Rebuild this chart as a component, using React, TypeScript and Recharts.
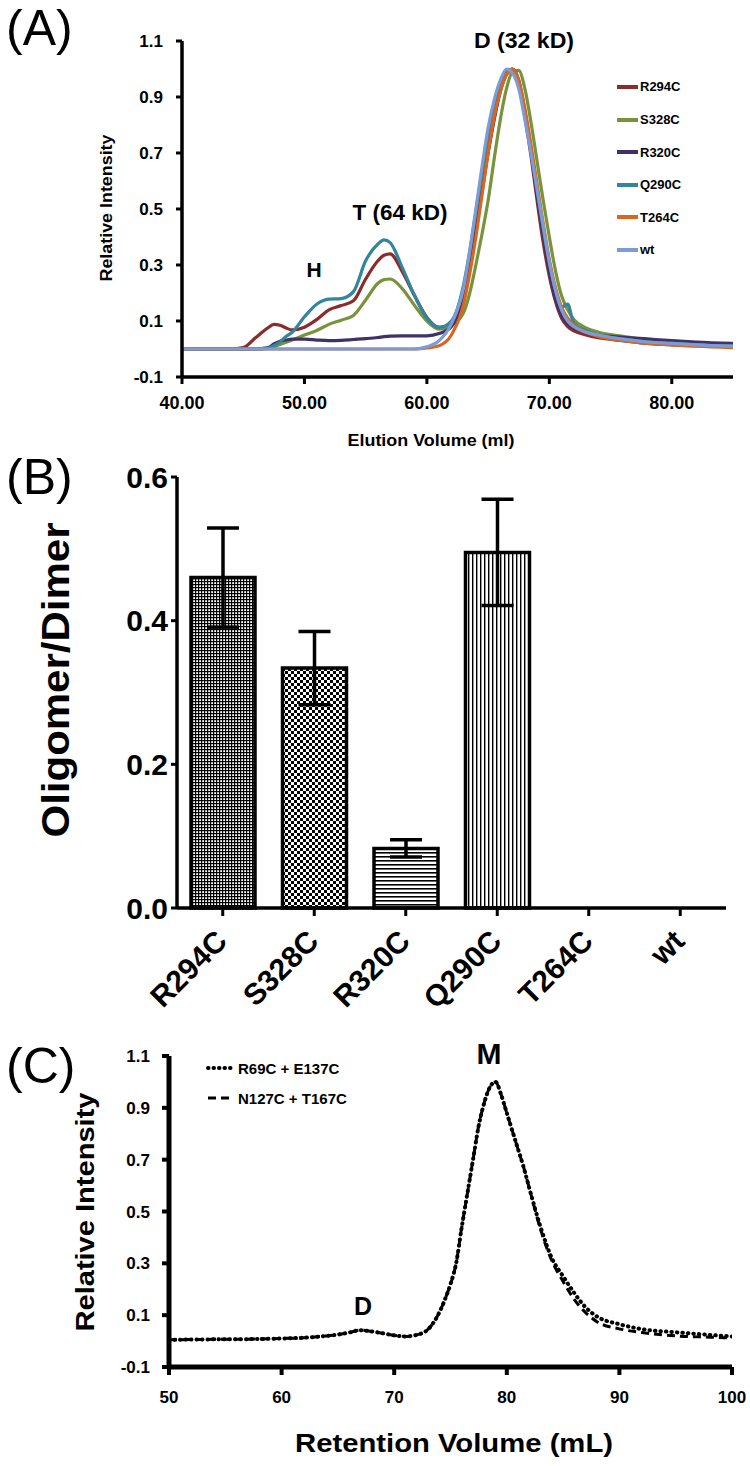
import React from "react";
import {
  LineChart,
  Line,
  BarChart,
  Bar,
  Cell,
  ErrorBar,
  XAxis,
  YAxis,
  Legend,
} from "recharts";

const FONT = '"Liberation Sans", Arial, Helvetica, sans-serif';

// ---- panel A: elution profiles ----
const elutionMl = [
  40, 44, 45, 46, 47, 47.5, 48, 48.5, 49, 50, 51, 52, 53, 54, 55, 56, 56.5, 57, 58, 59, 60,
  61, 62, 63, 63.5, 64, 64.5, 65, 65.5, 66, 66.5, 67, 67.5, 68, 68.5, 69, 69.5, 70, 70.5, 71,
  71.5, 72, 73, 74, 76, 78, 80, 82, 85,
];
const r294c = [
  0, 0, 0.005, 0.04, 0.075, 0.088, 0.085, 0.075, 0.068, 0.078, 0.105, 0.14, 0.155, 0.172, 0.25,
  0.315, 0.335, 0.34, 0.275, 0.19, 0.113,
  0.077, 0.09, 0.19, 0.3, 0.43, 0.57, 0.71, 0.83, 0.93, 0.985, 1.0, 0.95, 0.83, 0.69, 0.53, 0.38,
  0.26, 0.17, 0.11, 0.08, 0.065, 0.05, 0.04, 0.03, 0.02, 0.015, 0.012, 0.01,
];
const s328c = [
  0, 0, 0, 0, 0.002, 0.008, 0.016, 0.024, 0.032, 0.05, 0.066, 0.088, 0.103, 0.12, 0.175, 0.235,
  0.248, 0.25, 0.215, 0.155, 0.1,
  0.071, 0.085, 0.13, 0.2, 0.3, 0.41, 0.53, 0.68, 0.82, 0.93, 0.99, 0.995, 0.93, 0.81, 0.67, 0.53,
  0.4, 0.28, 0.19, 0.14, 0.105, 0.075, 0.06, 0.045, 0.032, 0.022, 0.015, 0.01,
];
const r320c = [
  0, 0, 0, 0, 0.004, 0.018, 0.028, 0.032, 0.035, 0.035, 0.032, 0.03, 0.031, 0.034, 0.037, 0.041,
  0.044, 0.046, 0.047, 0.047, 0.047,
  0.055, 0.08, 0.18, 0.29, 0.42, 0.56, 0.7, 0.82, 0.92, 0.98, 1.0, 0.96, 0.85, 0.71, 0.55, 0.41,
  0.28, 0.18, 0.12, 0.09, 0.075, 0.06, 0.05, 0.042, 0.036, 0.03, 0.025, 0.02,
];
const q290c = [
  0, 0, 0, 0, 0.003, 0.012, 0.025, 0.045, 0.06, 0.115, 0.16, 0.178, 0.18, 0.205, 0.315, 0.375,
  0.39, 0.38, 0.29, 0.19, 0.11,
  0.077, 0.1, 0.23, 0.35, 0.49, 0.63, 0.77, 0.88, 0.95, 0.99, 0.99, 0.94, 0.84, 0.71, 0.57, 0.43,
  0.31, 0.21, 0.15, 0.16, 0.09, 0.065, 0.05, 0.035, 0.025, 0.02, 0.015, 0.01,
];
const t264c = [
  0, 0, 0, 0, 0, 0, 0, 0, 0, 0, 0, 0, 0, 0, 0, 0, 0, 0, 0, 0, 0.004,
  0.012, 0.05, 0.16, 0.27, 0.4, 0.55, 0.7, 0.83, 0.92, 0.98, 1.0, 0.96, 0.86, 0.73, 0.59, 0.45,
  0.32, 0.22, 0.15, 0.11, 0.085, 0.06, 0.045, 0.03, 0.02, 0.015, 0.01, 0.005,
];
const wt = [
  0, 0, 0, 0, 0, 0, 0, 0, 0, 0, 0, 0, 0, 0, 0, 0, 0, 0, 0, 0, 0.008,
  0.03, 0.09, 0.22, 0.35, 0.5, 0.65, 0.79, 0.89, 0.96, 1.0, 0.985, 0.93, 0.82, 0.7, 0.57, 0.44,
  0.31, 0.21, 0.14, 0.1, 0.08, 0.06, 0.05, 0.035, 0.025, 0.02, 0.015, 0.01,
];
const ticksAX = [40, 50, 60, 70, 80];
const ticksAY = [-0.1, 0.1, 0.3, 0.5, 0.7, 0.9, 1.1];

const SERIES_A = [
  { key: "R294C", color: "#8a2c2b" },
  { key: "S328C", color: "#77933c" },
  { key: "R320C", color: "#3f3267" },
  { key: "Q290C", color: "#31859c" },
  { key: "T264C", color: "#d9661c" },
  { key: "wt", color: "#7d9cd5" },
];

const dataA = elutionMl.map((x, i) => ({
  x,
  R294C: r294c[i],
  S328C: s328c[i],
  R320C: r320c[i],
  Q290C: q290c[i],
  T264C: t264c[i],
  wt: wt[i],
}));

// ---- panel B: oligomer / dimer ratio ----
const mutants = ["R294C", "S328C", "R320C", "Q290C", "T264C", "wt"];
const ratio = [0.46, 0.334, 0.083, 0.495, 0, 0];
const ratioErr = [0.069, 0.051, 0.012, 0.074, 0, 0];
const ticksBY = [0, 0.2, 0.4, 0.6];
const FILLS = ["url(#pDots)", "url(#pCheck)", "url(#pHoriz)", "url(#pVert)", "#fff", "#fff"];

const dataB = mutants.map((name, i) => ({ name, value: ratio[i], err: ratioErr[i] }));

// ---- panel C: retention profiles ----
const retentionMl = [
  50, 52, 55, 58, 60, 62, 64, 65, 66, 67, 68, 69, 70, 71, 72, 73, 74, 74.5, 75, 75.5, 76, 76.5,
  77, 77.5, 78, 78.5, 79, 79.5, 80, 80.5, 81, 81.5, 82, 83, 84, 85, 86, 87, 88, 90, 92, 95, 98, 100,
];
const r69cE137c = [
  0.005, 0.006, 0.007, 0.008, 0.01, 0.013, 0.02, 0.025, 0.033, 0.042, 0.037, 0.03, 0.022, 0.018,
  0.024, 0.045, 0.11, 0.16, 0.22, 0.3, 0.44, 0.57, 0.7, 0.83, 0.92, 0.98, 1.0, 0.95, 0.88, 0.81,
  0.74, 0.67, 0.59, 0.44, 0.32, 0.25, 0.185, 0.13, 0.095, 0.065, 0.046, 0.034, 0.024, 0.018,
];
const n127cT167c = [
  0.005, 0.006, 0.007, 0.008, 0.01, 0.013, 0.02, 0.025, 0.033, 0.042, 0.037, 0.03, 0.022, 0.018,
  0.024, 0.045, 0.11, 0.16, 0.22, 0.3, 0.44, 0.57, 0.7, 0.83, 0.92, 0.98, 1.0, 0.95, 0.88, 0.81,
  0.74, 0.67, 0.59, 0.43, 0.31, 0.23, 0.16, 0.11, 0.075, 0.047, 0.033, 0.02, 0.015, 0.012,
];
const ticksCX = [50, 60, 70, 80, 90, 100];
const ticksCY = [-0.1, 0.1, 0.3, 0.5, 0.7, 0.9, 1.1];

const C_STYLE: Record<string, { dash: string; w: number; cap: "round" | "butt" }> = {
  "R69C + E137C": { dash: "0.5 5", w: 4, cap: "round" },
  "N127C + T167C": { dash: "8 5", w: 3, cap: "butt" },
};

const dataC = retentionMl.map((x, i) => ({ x, a: r69cE137c[i], b: n127cT167c[i] }));

const tickStyle = (size: number) => ({
  fill: "#000",
  fontSize: size,
  fontWeight: 700,
  fontFamily: FONT,
});

const LegendA = (props: any) => {
  const items = [...(props.payload || [])].sort(
    (a: any, b: any) =>
      SERIES_A.findIndex((s) => s.key === a.value) - SERIES_A.findIndex((s) => s.key === b.value)
  );
  return (
    <div>
      {items.map((p: any) => (
        <div key={p.value} style={{ display: "flex", alignItems: "center", height: 32.6 }}>
          <span style={{ width: 21, height: 4, background: p.color, display: "inline-block" }} />
          <span style={{ fontSize: 13, fontWeight: 700, fontFamily: FONT, marginLeft: 2 }}>{p.value}</span>
        </div>
      ))}
    </div>
  );
};

const LegendC = (props: any) => {
  const order = Object.keys(C_STYLE);
  const items = [...(props.payload || [])].sort(
    (a: any, b: any) => order.indexOf(a.value) - order.indexOf(b.value)
  );
  return (
    <div>
      {items.map((p: any) => {
        const st = C_STYLE[p.value];
        return (
          <div key={p.value} style={{ display: "flex", alignItems: "center", height: 30 }}>
            <svg width={30} height={8}>
              <line x1={2} y1={4} x2={28} y2={4} stroke="#000" strokeWidth={st.w}
                strokeDasharray={st.dash} strokeLinecap={st.cap} />
            </svg>
            <span style={{ fontSize: 15, fontWeight: 700, fontFamily: FONT, marginLeft: 2 }}>{p.value}</span>
          </div>
        );
      })}
    </div>
  );
};

const RotTick = (props: any) => {
  const { x, y, payload } = props;
  const ax = x + 6;
  const ay = y + 25;
  return (
    <text x={ax} y={ay} textAnchor="end" transform={`rotate(-45 ${ax} ${ay})`}
      fontSize={30} fontWeight={700} fontFamily={FONT} fill="#000">
      {payload.value}
    </text>
  );
};

const T = (p: any) => (
  <text
    x={p.x}
    y={p.y}
    textAnchor="middle"
    dominantBaseline="central"
    fontSize={p.size}
    fontWeight={p.weight ?? 700}
    fontFamily={FONT}
    fill="#000"
    textLength={p.len}
    lengthAdjust={p.len ? "spacingAndGlyphs" : undefined}
    transform={p.rot ? `rotate(-90 ${p.x} ${p.y})` : undefined}
  >
    {p.children}
  </text>
);

export default function App() {
  return (
    <div style={{ position: "absolute", left: 0, top: 0, width: 750, height: 1466, background: "#fff" }}>
      <svg width={0} height={0} style={{ position: "absolute" }}>
        <defs>
          <pattern id="pDots" width={3} height={3} patternUnits="userSpaceOnUse">
            <rect width={3} height={3} fill="#fff" />
            <rect width={3} height={1.2} fill="#000" />
            <rect width={1.2} height={3} fill="#000" />
          </pattern>
          <pattern id="pCheck" width={6} height={6} patternUnits="userSpaceOnUse">
            <rect width={6} height={6} fill="#fff" />
            <rect width={3} height={3} fill="#000" />
            <rect x={3} y={3} width={3} height={3} fill="#000" />
          </pattern>
          <pattern id="pHoriz" width={4} height={4} patternUnits="userSpaceOnUse">
            <rect width={4} height={4} fill="#fff" />
            <rect width={4} height={1.6} fill="#000" />
          </pattern>
          <pattern id="pVert" width={4} height={4} patternUnits="userSpaceOnUse">
            <rect width={4} height={4} fill="#fff" />
            <rect width={1.4} height={4} fill="#000" />
          </pattern>
        </defs>
      </svg>

      {/* (A) */}
      <div style={{ position: "absolute", left: 0, top: 0 }}>
        <LineChart width={750} height={460} data={dataA} margin={{ top: 41, right: 17, bottom: 43, left: 122 }}>
          <XAxis
            dataKey="x"
            type="number"
            domain={[40, 85]}
            ticks={ticksAX}
            allowDataOverflow
            tickFormatter={(v: number) => v.toFixed(2)}
            height={40}
            tickSize={7}
            tickMargin={12}
            tick={tickStyle(18)}
            axisLine={{ stroke: "#000", strokeWidth: 3.5 }}
            tickLine={{ stroke: "#000", strokeWidth: 3 }}
          />
          <YAxis
            type="number"
            domain={[-0.1, 1.1]}
            ticks={ticksAY}
            allowDataOverflow
            tickFormatter={(v: number) => v.toFixed(1)}
            width={60}
            tickSize={6}
            tickMargin={13}
            tick={tickStyle(17)}
            axisLine={{ stroke: "#000", strokeWidth: 3.5 }}
            tickLine={{ stroke: "#000", strokeWidth: 3 }}
          />
          {SERIES_A.map((s) => (
            <Line
              key={s.key}
              dataKey={s.key}
              name={s.key}
              type="monotone"
              stroke={s.color}
              strokeWidth={3.2}
              dot={false}
              activeDot={false}
              isAnimationActive={false}
            />
          ))}
          <Legend
            layout="vertical"
            align="center"
            verticalAlign="middle"
            content={<LegendA />}
            wrapperStyle={{ position: "absolute", left: 617, top: 70.7, width: 100 }}
          />
        </LineChart>
      </div>

      {/* (B) */}
      <div style={{ position: "absolute", left: 0, top: 440 }}>
        <BarChart width={750} height={600} data={dataB} barSize={64}
          margin={{ top: 37, right: 24, bottom: 32, left: 107 }}>
          <XAxis
            dataKey="name"
            interval={0}
            height={100}
            tickSize={8}
            tickMargin={2}
            tick={<RotTick />}
            axisLine={{ stroke: "#000", strokeWidth: 3.5 }}
            tickLine={{ stroke: "#000", strokeWidth: 3 }}
          />
          <YAxis
            type="number"
            domain={[0, 0.6]}
            ticks={ticksBY}
            tickFormatter={(v: number) => v.toFixed(1)}
            width={70}
            tickSize={6}
            tickMargin={3}
            tick={tickStyle(30)}
            axisLine={{ stroke: "#000", strokeWidth: 3.5 }}
            tickLine={{ stroke: "#000", strokeWidth: 3 }}
          />
          <Bar dataKey="value" stroke="#000" strokeWidth={3.5} isAnimationActive={false}>
            {dataB.map((d, i) => (
              <Cell key={d.name} fill={FILLS[i]} />
            ))}
            <ErrorBar dataKey="err" width={16} stroke="#000" strokeWidth={3.5} />
          </Bar>
        </BarChart>
      </div>

      {/* (C) */}
      <div style={{ position: "absolute", left: 0, top: 1030 }}>
        <LineChart width={750} height={436} data={dataC} margin={{ top: 26, right: 18, bottom: 59, left: 109 }}>
          <XAxis
            dataKey="x"
            type="number"
            domain={[50, 100]}
            ticks={ticksCX}
            allowDataOverflow
            height={40}
            tickSize={8}
            tickMargin={16}
            tick={tickStyle(17)}
            axisLine={{ stroke: "#000", strokeWidth: 5 }}
            tickLine={{ stroke: "#000", strokeWidth: 4 }}
          />
          <YAxis
            type="number"
            domain={[-0.1, 1.1]}
            ticks={ticksCY}
            allowDataOverflow
            tickFormatter={(v: number) => v.toFixed(1)}
            width={60}
            tickSize={7}
            tickMargin={12}
            tick={tickStyle(17)}
            axisLine={{ stroke: "#000", strokeWidth: 5 }}
            tickLine={{ stroke: "#000", strokeWidth: 4 }}
          />
          <Line dataKey="b" name="N127C + T167C" type="monotone" stroke="#000" strokeWidth={3}
            strokeDasharray="8 5" dot={false} activeDot={false} isAnimationActive={false} />
          <Line dataKey="a" name="R69C + E137C" type="monotone" stroke="#000" strokeWidth={4}
            strokeDasharray="0.5 5" strokeLinecap="round" dot={false} activeDot={false} isAnimationActive={false} />
          <Legend
            layout="vertical"
            align="center"
            verticalAlign="middle"
            content={<LegendC />}
            wrapperStyle={{ position: "absolute", left: 206, top: 23, width: 200 }}
          />
        </LineChart>
      </div>

      {/* labels */}
      <svg width={750} height={1466} style={{ position: "absolute", left: 0, top: 0, pointerEvents: "none" }}>
        <text x={6} y={45} fontSize={50} fontFamily={FONT} fill="#000">(A)</text>
        <text x={6} y={494} fontSize={50} fontFamily={FONT} fill="#000">(B)</text>
        <text x={6} y={1083} fontSize={50} fontFamily={FONT} fill="#000">(C)</text>

        <T x={106} y={208} size={17} len={147} rot>Relative Intensity</T>
        <T x={431} y={440} size={17} len={167}>Elution Volume (ml)</T>
        <T x={524} y={40} size={22} len={100}>D (32 kD)</T>
        <T x={400} y={212} size={22} len={95}>T (64 kD)</T>
        <T x={314} y={269} size={21}>H</T>

        <T x={56} y={680} size={38} len={315} rot>Oligomer/Dimer</T>

        <T x={85} y={1212} size={26} len={239} rot>Relative Intensity</T>
        <T x={454} y={1443} size={26} len={318}>Retention Volume (mL)</T>
        <T x={489} y={1053} size={30}>M</T>
        <T x={363} y={1306} size={25}>D</T>
      </svg>
    </div>
  );
}
